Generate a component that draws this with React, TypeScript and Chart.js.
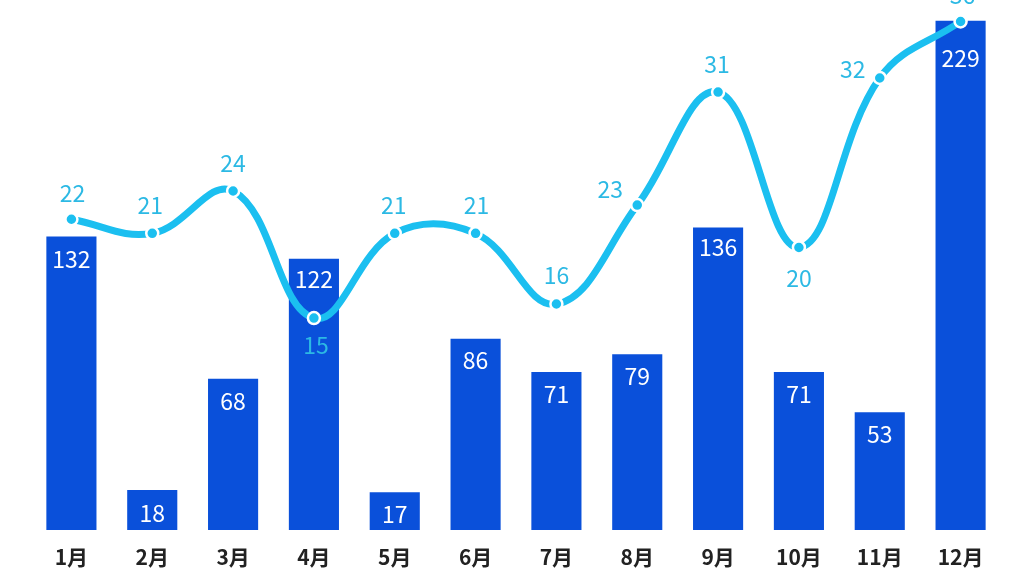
import React, { useEffect, useRef } from "react";
import { Chart, registerables } from "chart.js";

Chart.register(...registerables);

const months = ["1月", "2月", "3月", "4月", "5月", "6月", "7月", "8月", "9月", "10月", "11月", "12月"];
const barValues = [132, 18, 68, 122, 17, 86, 71, 79, 136, 71, 53, 229];
const lineValues = [22, 21, 24, 15, 21, 21, 16, 23, 31, 20, 32, 36];

// label placement (style only): offsets from the point, in px
const lineLabelOffsets: [number, number][] = [
  [1, -26], [-2, -28], [0, -28], [2, 27], [-1, -28], [1, -28],
  [0, -29], [-27, -16], [-1, -28], [0, 31], [-27, -9], [2, -26],
];
const barLabelOffsets = [23, 23, 22, 21, 22, 22, 22, 22, 20, 22, 22, 38];

const FONT = "'Noto Sans CJK SC', 'Noto Sans', sans-serif";

const labelPlugin = {
  id: "valueLabels",
  afterDatasetsDraw(chart: any) {
    const ctx = chart.ctx;
    ctx.save();
    ctx.textAlign = "center";
    ctx.textBaseline = "middle";
    const barMeta = chart.getDatasetMeta(1);
    ctx.font = `23px ${FONT}`;
    ctx.fillStyle = "#ffffff";
    barMeta.data.forEach((el: any, i: number) => {
      ctx.fillText(String(barValues[i]), el.x, el.y + barLabelOffsets[i]);
    });
    const lineMeta = chart.getDatasetMeta(0);
    ctx.font = `23px ${FONT}`;
    ctx.fillStyle = "#2cb9e4";
    lineMeta.data.forEach((el: any, i: number) => {
      const [dx, dy] = lineLabelOffsets[i];
      ctx.fillText(String(lineValues[i]), el.x + dx, el.y + dy);
    });
    ctx.restore();
  },
};

export default function App() {
  const ref = useRef<HTMLCanvasElement>(null);
  useEffect(() => {
    if (!ref.current) return;
    const chart = new Chart(ref.current, {
      type: "bar",
      data: {
        labels: months,
        datasets: [
          {
            type: "line",
            data: lineValues,
            yAxisID: "y2",
            borderColor: "#1bbff0",
            borderWidth: 7,
            tension: 0.4,
            pointRadius: 6,
            pointBackgroundColor: "#1bbff0",
            pointBorderColor: "#ffffff",
            pointBorderWidth: 2.5,
            clip: false,
            order: 0,
          } as any,
          {
            type: "bar",
            data: barValues,
            yAxisID: "y",
            backgroundColor: "#0a50da",
            barPercentage: 0.62,
            categoryPercentage: 1,
            order: 1,
          },
        ],
      },
      plugins: [labelPlugin],
      options: {
        responsive: false,
        animation: false,
        events: [],
        layout: { padding: { left: 31, right: 34, top: 0, bottom: 0 } },
        plugins: { legend: { display: false }, tooltip: { enabled: false } },
        scales: {
          x: {
            grid: { display: false },
            border: { display: false },
            afterFit: (s: any) => { s.height = 52; },
            ticks: {
              color: "#222222",
              font: { family: FONT, size: 21, weight: "bold" },
              padding: 6,
            },
          },
          y: { display: false, min: 0, max: 234.5 },
          y2: { display: false, min: 0, max: 36.92 },
        },
      },
    });
    return () => chart.destroy();
  }, []);
  return (
    <canvas
      ref={ref}
      width={1035}
      height={582}
      style={{ position: "absolute", left: 0, top: 0, width: 1035, height: 582 }}
    />
  );
}
